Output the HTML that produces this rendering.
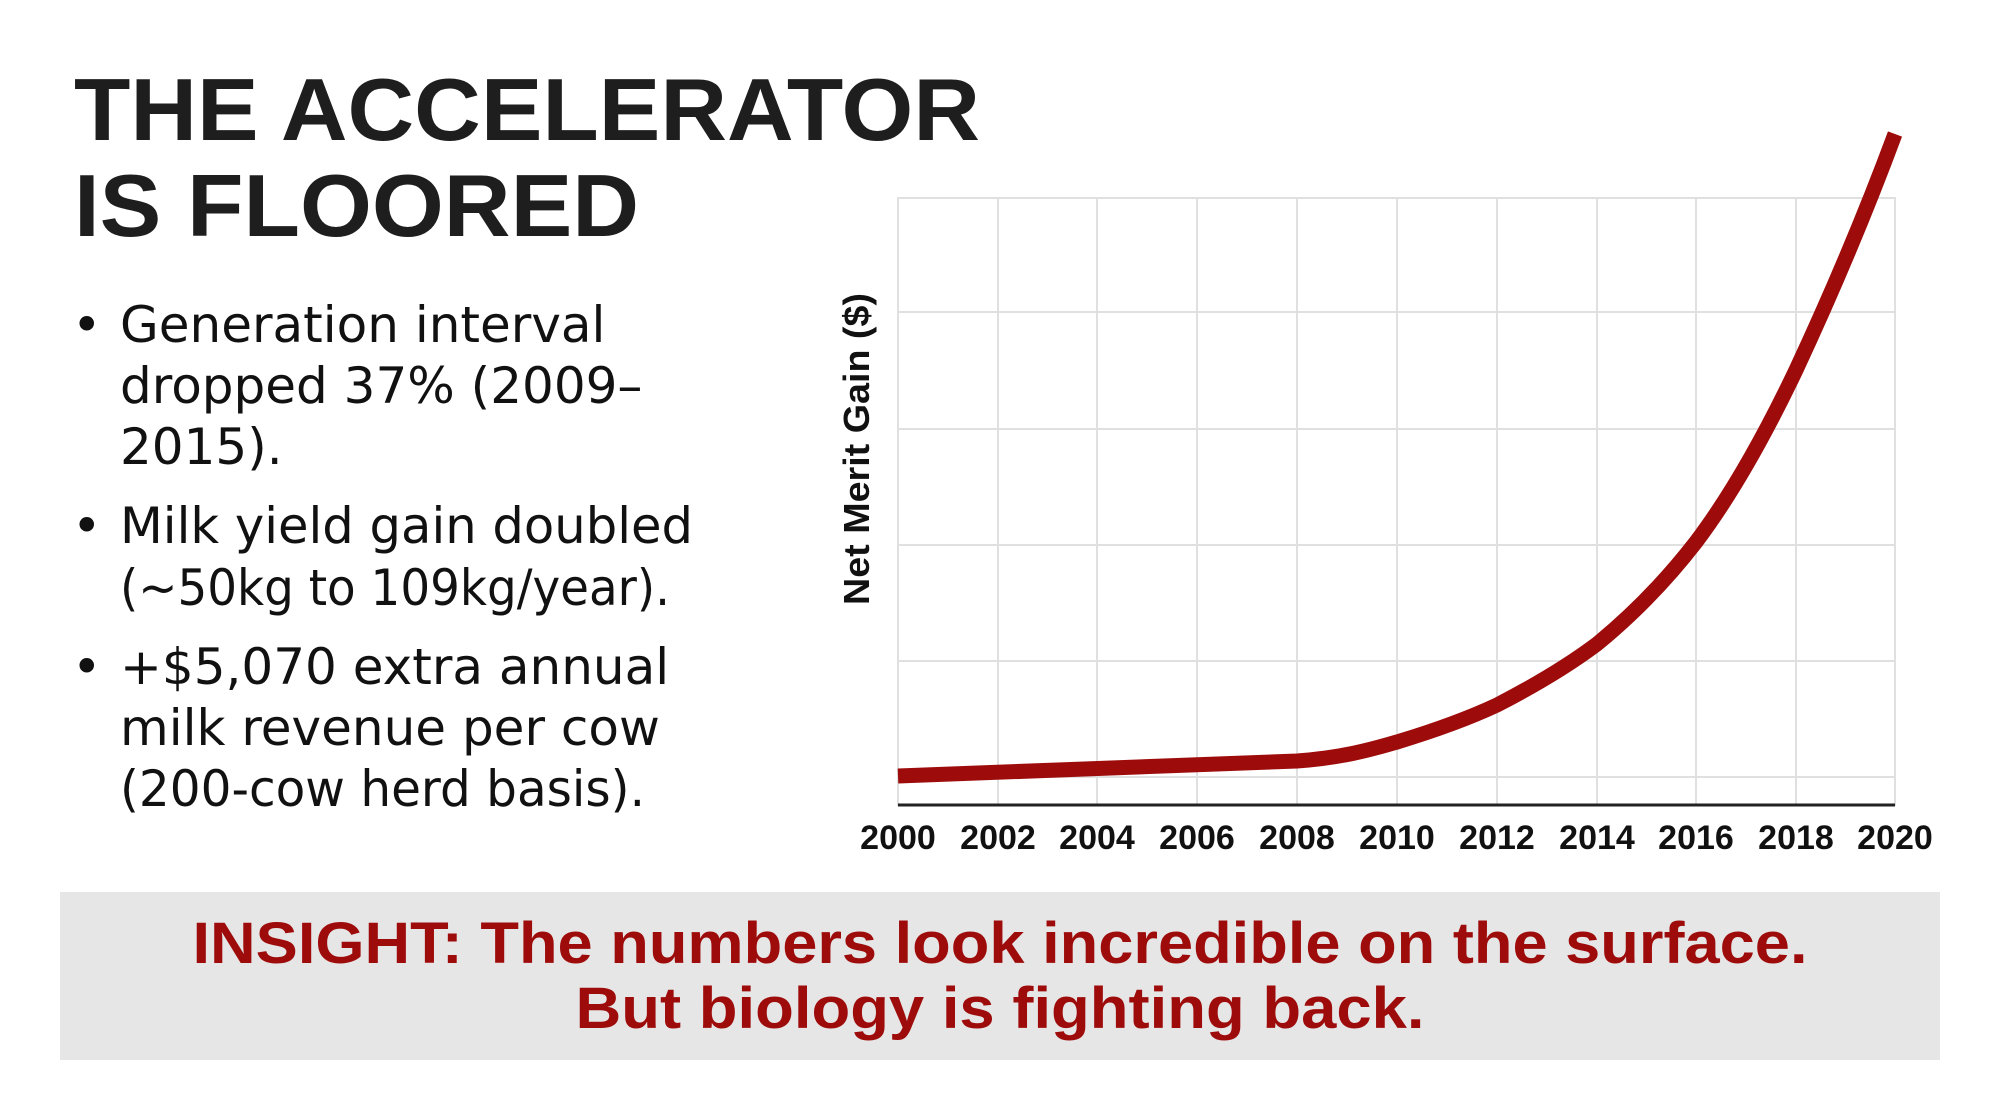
<!DOCTYPE html>
<html><head><meta charset="utf-8"><style>
html,body{margin:0;padding:0;background:#fff;}
svg{display:block}
</style></head><body>
<svg width="2000" height="1116" viewBox="0 0 2000 1116" xmlns="http://www.w3.org/2000/svg">
<rect width="2000" height="1116" fill="#fff"/>
<g font-family="Liberation Sans, sans-serif" font-weight="900" fill="#1e1e1e">
<text x="74" y="140" font-size="88" textLength="906" lengthAdjust="spacingAndGlyphs">THE ACCELERATOR</text>
<text x="74" y="236" font-size="88" textLength="565" lengthAdjust="spacingAndGlyphs">IS FLOORED</text>
</g>
<g font-family="DejaVu Sans, Liberation Sans, sans-serif" font-size="50" fill="#111">
<text x="72" y="342">•</text><text x="120" y="342">Generation interval</text>
<text x="120" y="403">dropped 37% (2009–</text>
<text x="120" y="464">2015).</text>
<text x="72" y="543">•</text><text x="120" y="543" textLength="573" lengthAdjust="spacingAndGlyphs">Milk yield gain doubled</text>
<text x="120" y="605" textLength="550" lengthAdjust="spacingAndGlyphs">(~50kg to 109kg/year).</text>
<text x="72" y="684">•</text><text x="120" y="684">+$5,070 extra annual</text>
<text x="120" y="745">milk revenue per cow</text>
<text x="120" y="806" textLength="525" lengthAdjust="spacingAndGlyphs">(200-cow herd basis).</text>
</g>
<g stroke="#e0e0e0" stroke-width="2" fill="none">
<rect x="898" y="198" width="997" height="607"/>
<line x1="898" y1="312" x2="1895" y2="312"/>
<line x1="898" y1="429" x2="1895" y2="429"/>
<line x1="898" y1="545" x2="1895" y2="545"/>
<line x1="898" y1="661" x2="1895" y2="661"/>
<line x1="898" y1="777" x2="1895" y2="777"/>
<line x1="998" y1="198" x2="998" y2="805"/>
<line x1="1097" y1="198" x2="1097" y2="805"/>
<line x1="1197" y1="198" x2="1197" y2="805"/>
<line x1="1297" y1="198" x2="1297" y2="805"/>
<line x1="1397" y1="198" x2="1397" y2="805"/>
<line x1="1497" y1="198" x2="1497" y2="805"/>
<line x1="1597" y1="198" x2="1597" y2="805"/>
<line x1="1696" y1="198" x2="1696" y2="805"/>
<line x1="1796" y1="198" x2="1796" y2="805"/>
</g>
<line x1="898" y1="805" x2="1895" y2="805" stroke="#222" stroke-width="3"/>
<path fill="none" stroke="#9e0b0b" stroke-width="15" stroke-linejoin="round" d="M898,776 L1297,761 C1340,758 1370,750 1397,742 C1430,732 1465,720 1497,705 C1530,688 1565,668 1597,644 C1630,617 1665,582 1696,542 C1730,497 1765,435 1796,370 C1830,297 1865,215 1895,134"/>
<g font-family="Liberation Sans, sans-serif" font-weight="bold" font-size="34" fill="#111" text-anchor="middle">
<text x="898" y="849">2000</text><text x="998" y="849">2002</text><text x="1097" y="849">2004</text>
<text x="1197" y="849">2006</text><text x="1297" y="849">2008</text><text x="1397" y="849">2010</text>
<text x="1497" y="849">2012</text><text x="1597" y="849">2014</text><text x="1696" y="849">2016</text>
<text x="1796" y="849">2018</text><text x="1895" y="849">2020</text>
<text transform="translate(869,449) rotate(-90)" font-size="36" textLength="312" lengthAdjust="spacingAndGlyphs">Net Merit Gain ($)</text>
</g>
<rect x="60" y="892" width="1880" height="168" fill="#e6e6e6"/>
<g font-family="Liberation Sans, sans-serif" font-weight="900" font-size="58" fill="#9e0b0b" text-anchor="middle">
<text x="1000" y="963" textLength="1615" lengthAdjust="spacingAndGlyphs">INSIGHT: The numbers look incredible on the surface.</text>
<text x="1000" y="1028" textLength="849" lengthAdjust="spacingAndGlyphs">But biology is fighting back.</text>
</g>
</svg>
</body></html>
